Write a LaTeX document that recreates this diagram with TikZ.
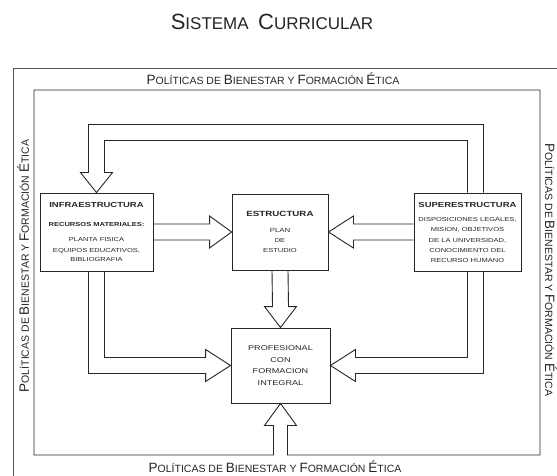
\documentclass[tikz,border=0pt]{standalone}
\usepackage{fontspec}
\setmainfont{Liberation Sans}
\newfontfamily\boxfont[FakeStretch=1.3]{Liberation Sans}
\usetikzlibrary{calc}
\definecolor{ink}{HTML}{262626}
\newcommand\BigL[1]{{\fontsize{13.5pt}{14pt}\selectfont #1}}
\newcommand\polit{\fontsize{10.5pt}{12pt}\selectfont\BigL{P}OLÍTICAS DE \BigL{B}IENESTAR Y \BigL{F}ORMACIÓN \BigL{É}TICA}
\newcommand\TitL[1]{{\fontsize{22pt}{24pt}\selectfont #1}}
\begin{document}
\begin{tikzpicture}[x=1pt,y=-1pt,
  band/.style={draw=ink, line width=0.9pt, line join=miter},
  outerline/.style={draw=ink!80, line width=0.6pt},
  box/.style={draw=ink, line width=0.9pt, rectangle, inner sep=0pt, align=center, text=ink,
    font=\boxfont\fontsize{5.8}{10}\selectfont},
  lbl/.style={inner sep=0pt, text=ink}]
\useasboundingbox (0,0) rectangle (557,476);
\fill[white] (0,0) rectangle (557,476);

% title and frame labels
\node[lbl] (title) at (272,22) {\fontsize{17pt}{20pt}\selectfont\TitL{S}ISTEMA\ \ \TitL{C}URRICULAR};
\node[lbl] (ltop) at (273,79) {\polit};
\node[lbl] (lbot) at (275,467) {\polit};
\node[lbl, rotate=90] (lleft) at (23,266) {\polit};
\node[lbl, rotate=-90] (lright) at (551,270) {\polit};

% frames
\coordinate (oTL) at (13,68);
\coordinate (oBR) at (565,485);
\draw[outerline] (oTL |- oBR) |- (oBR |- oTL);
\coordinate (fTL) at (34,90);
\coordinate (fBR) at (540,455);

% boxes
\node[box, minimum width=113pt, minimum height=78pt] (infra) at (96.5,232)
  {{\bfseries\fontsize{7.3}{10}\selectfont INFRAESTRUCTURA}\\[9pt]
   {\bfseries RECURSOS MATERIALES:}\\[5pt]
   PLANTA FISICA\\[0.5pt]
   EQUIPOS EDUCATIVOS,\\[-1pt]
   BIBLIOGRAFIA};
\node[box, minimum width=96pt, minimum height=76pt] (estr) at (280,232)
  {{\bfseries\fontsize{7.5}{10}\selectfont ESTRUCTURA}\\[6pt]
   \fontsize{6}{10}\selectfont PLAN\\ DE\\ ESTUDIO};
\node[box, minimum width=107pt, minimum height=78pt] (super) at (467.5,232)
  {{\bfseries\fontsize{7.3}{10}\selectfont SUPERESTRUCTURA}\\[4pt]
   DISPOSICIONES LEGALES,\\[0.5pt]
   MISION, OBJETIVOS\\[0.5pt]
   DE LA UNIVERSIDAD,\\
   CONOCIMIENTO DEL\\
   RECURSO HUMANO};
\node[box, minimum width=99pt, minimum height=75pt,
      font=\boxfont\fontsize{7}{11.7}\selectfont] (prof) at (280.5,365.5)
  {PROFESIONAL\\ CON\\ FORMACION\\ INTEGRAL};

% inner frame flowing into the bottom arrow
\draw[band] ($(prof.south |- fBR)+(-7,0)$) -| (fTL) -| (fBR)
  -- ($(prof.south |- fBR)+(7,0)$) -- ($(prof.south)+(7,22)$) -- ++(9,0)
  -- (prof.south) -- ($(prof.south)+(-16,22)$) -- ++(9,0) -- cycle;

% top loop: superestructura -> infraestructura
\draw[band] ($(super.north)+(16,0)$) |- ($(infra.north)+(-8,-68)$)
  -- ($(infra.north)+(-8,-20)$) -- ++(-8,0) -- (infra.north)
  -- ($(infra.north)+(16,-20)$) -- ++(-8,0) |- ($(super.north)+(0,-52)$)
  -- (super.north);

% infraestructura -> estructura
\draw[band] ($(infra.east)+(0,-8)$) -- ($(estr.west)+(-22,-8)$) -- ++(0,-8)
  -- (estr.west) -- ($(estr.west)+(-22,16)$) -- ++(0,-8) -- ($(infra.east)+(0,8)$);

% superestructura -> estructura
\draw[band] ($(super.west)+(0,-8)$) -- ($(estr.east)+(25,-8)$) -- ++(0,-8)
  -- (estr.east) -- ($(estr.east)+(25,16)$) -- ++(0,-8) -- ($(super.west)+(0,8)$);

% estructura -> profesional
\draw[band] ($(estr.south)+(-8,0)$) -- ($(prof.north)+(-8,-21)$) -- ++(-8,0)
  -- (prof.north) -- ($(prof.north)+(16,-21)$) -- ++(-8,0) -- ($(estr.south)+(8,0)$);

% infraestructura -> profesional
\draw[band] ($(infra.south)+(-8,0)$) |- ($(prof.west)+(-25,8)$) -- ++(0,8)
  -- (prof.west) -- ($(prof.west)+(-25,-16)$) -- ++(0,8) -| ($(infra.south)+(8,0)$);

% superestructura -> profesional
\draw[band] ($(super.south)+(16,0)$) |- ($(prof.east)+(25,8)$) -- ++(0,8)
  -- (prof.east) -- ($(prof.east)+(25,-16)$) -- ++(0,8) -| (super.south);
\end{tikzpicture}
\end{document}
